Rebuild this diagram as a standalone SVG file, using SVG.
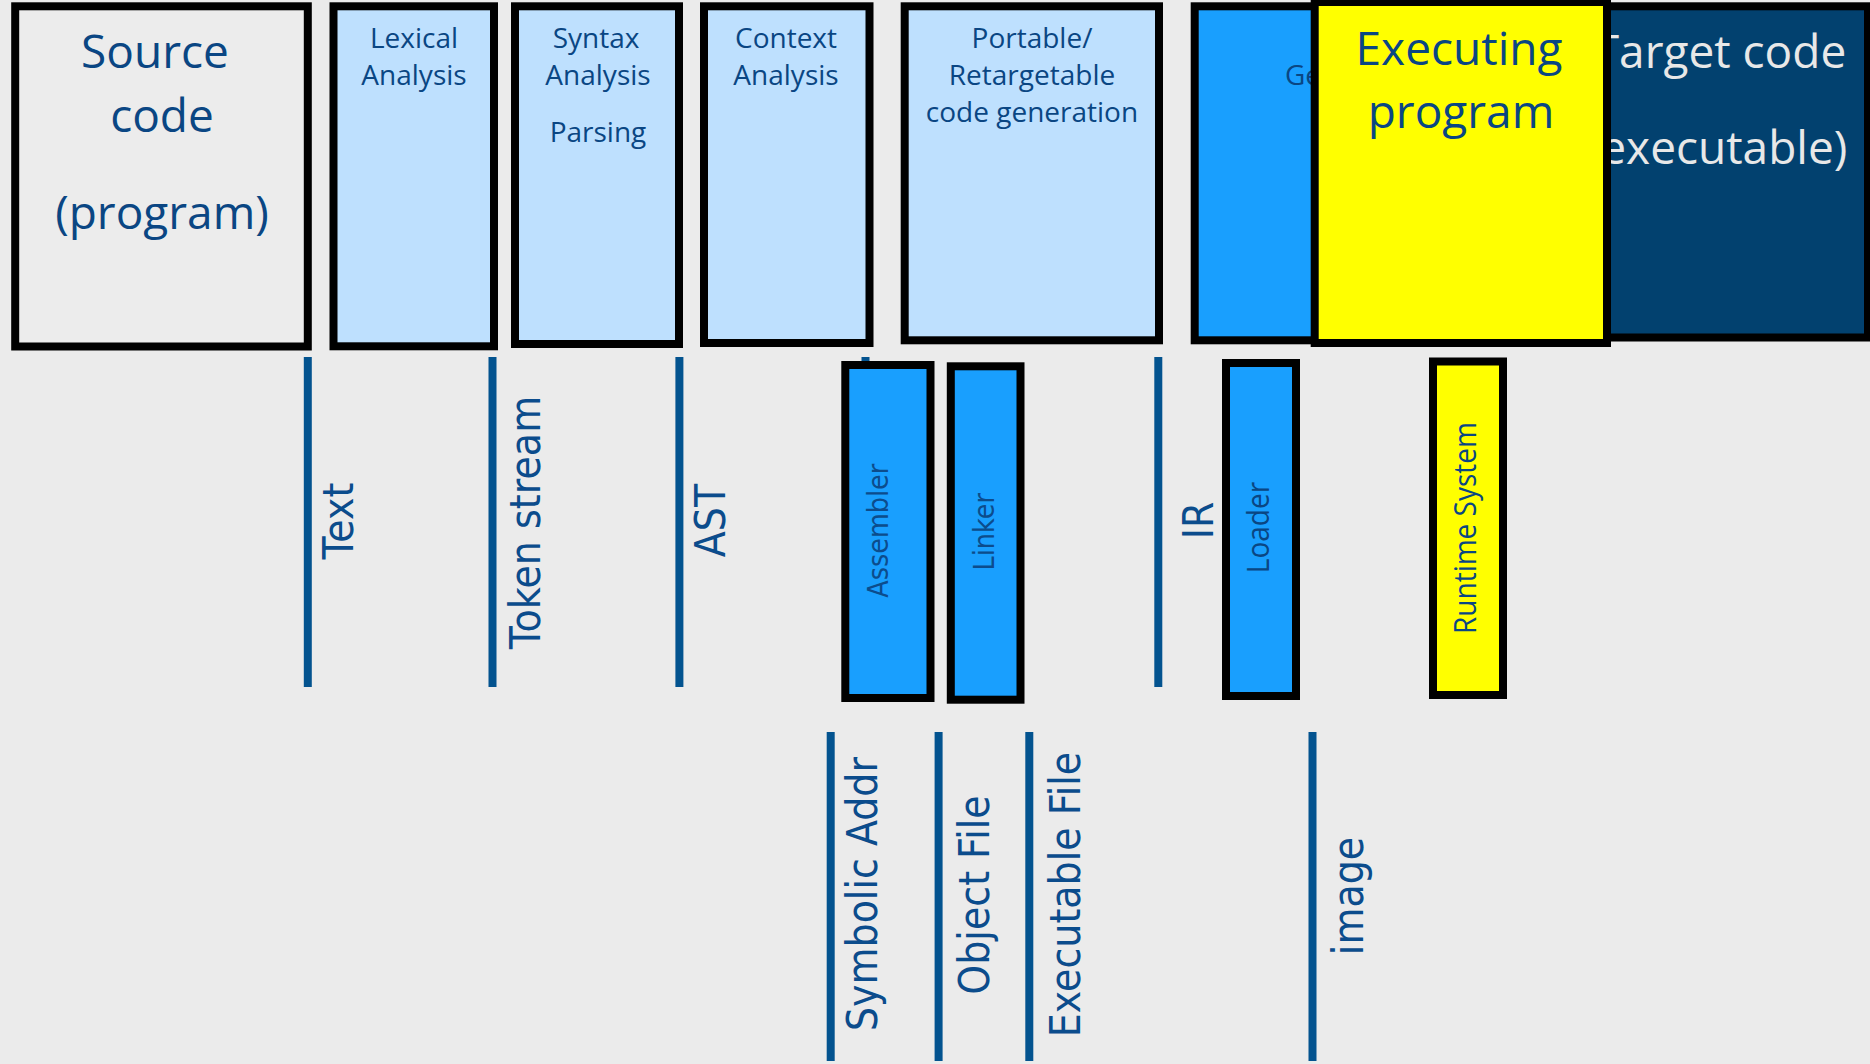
<svg xmlns="http://www.w3.org/2000/svg" width="1870" height="1064" viewBox="0 0 1870 1064">
  <style>
    .box { stroke: #000; stroke-width: 8; }
    .src { fill: #ececec; }
    .phase { fill: #bee0fe; }
    .tool { fill: #199ffe; }
    .exec { fill: #ffff00; }
    .target { fill: #02416f; }
    .lbl { font-family: "Open Sans", "Liberation Sans", sans-serif; font-size: 28px; fill: #0a4683; text-anchor: middle; }
    .big { font-size: 46px; }
    .light { fill: #e8e8e8; }
    .flow { stroke: #03538f; stroke-width: 8; fill: none; }
    .data { font-family: "DejaVu Sans", sans-serif; font-size: 38px; fill: #0b4c8c; text-anchor: middle; }
    .toolname { font-family: "DejaVu Sans", sans-serif; font-size: 25.5px; fill: #0c4c8c; text-anchor: middle; }
    .rtname { font-family: "Open Sans", "Liberation Sans", sans-serif; font-size: 28px; fill: #0a4683; text-anchor: middle; }
  </style>

  <rect x="0" y="0" width="1870" height="1064" fill="#ebebeb"/>

  <!-- compiler phases across the top -->
  <g id="source-code">
    <rect class="box src" x="15.2" y="6.3" width="292.6" height="340.2"/>
    <text class="lbl big" x="155" y="68">Source</text>
    <text class="lbl big" x="162" y="132">code</text>
    <text class="lbl big" x="162" y="229">(program)</text>
  </g>

  <g id="lexical-analysis">
    <rect class="box phase" x="333.5" y="6.3" width="160.5" height="340"/>
    <text class="lbl" x="414" y="48">Lexical</text>
    <text class="lbl" x="414" y="85">Analysis</text>
  </g>

  <g id="syntax-analysis">
    <rect class="box phase" x="515" y="6.3" width="164" height="337.7"/>
    <text class="lbl" x="596" y="48">Syntax</text>
    <text class="lbl" x="598" y="85">Analysis</text>
    <text class="lbl" x="598" y="142">Parsing</text>
  </g>

  <g id="context-analysis">
    <rect class="box phase" x="704" y="6.3" width="165.5" height="336.7"/>
    <text class="lbl" x="786" y="48">Context</text>
    <text class="lbl" x="786" y="85">Analysis</text>
  </g>

  <g id="portable-codegen">
    <rect class="box phase" x="904.7" y="6.3" width="254.3" height="334"/>
    <text class="lbl" x="1032" y="48">Portable/</text>
    <text class="lbl" x="1032" y="85">Retargetable</text>
    <text class="lbl" x="1032" y="122">code generation</text>
  </g>

  <g id="target-codegen">
    <rect class="box tool" x="1194.7" y="6.3" width="310" height="334"/>
    <text class="lbl" x="1285" y="85" style="text-anchor:start">Ge</text>
  </g>

  <g id="target-code">
    <rect class="box target" x="1564" y="6.3" width="304" height="331.2"/>
    <text class="lbl big light" x="1720" y="68">Target code</text>
    <text class="lbl big light" x="1717" y="164">(executable)</text>
  </g>

  <g id="executing-program">
    <rect class="box exec" x="1314.7" y="2" width="292.3" height="341"/>
    <text class="lbl big" x="1459" y="65">Executing</text>
    <text class="lbl big" x="1461" y="128">program</text>
  </g>

  <!-- data passed between the stages -->
  <g id="connectors">
    <line class="flow" x1="307.8" y1="357" x2="307.8" y2="687"/>
    <line class="flow" x1="492.5" y1="357" x2="492.5" y2="687"/>
    <line class="flow" x1="679.4" y1="357" x2="679.4" y2="687"/>
    <line class="flow" x1="865.5" y1="357" x2="865.5" y2="687"/>
    <line class="flow" x1="1158.3" y1="357" x2="1158.3" y2="687"/>
    <line class="flow" x1="830.7" y1="732" x2="830.7" y2="1061"/>
    <line class="flow" x1="938.6" y1="732" x2="938.6" y2="1061"/>
    <line class="flow" x1="1029.3" y1="732" x2="1029.3" y2="1061"/>
    <line class="flow" x1="1312.5" y1="732" x2="1312.5" y2="1061"/>

    <text class="data" transform="translate(353,521) rotate(-90) scale(1,1.13)">Text</text>
    <text class="data" transform="translate(540,522.5) rotate(-90) scale(1,1.13)">Token stream</text>
    <text class="data" transform="translate(725,520.5) rotate(-90) scale(1,1.13)">AST</text>
    <text class="data" transform="translate(1213,520.5) rotate(-90) scale(1,1.13)">IR</text>
    <text class="data" transform="translate(876.5,894) rotate(-90) scale(1,1.13)">Symbolic Addr</text>
    <text class="data" transform="translate(988.5,895) rotate(-90) scale(1,1.13)">Object File</text>
    <text class="data" transform="translate(1079.5,894.5) rotate(-90) scale(1,1.13)">Executable File</text>
    <text class="data" transform="translate(1363,896) rotate(-90) scale(1,1.13)">image</text>
  </g>

  <!-- back-end tools -->
  <g id="assembler">
    <rect class="box tool" x="845.3" y="365" width="85.2" height="333"/>
    <text class="toolname" transform="translate(887.5,530.8) rotate(-90) scale(1,1.13)">Assembler</text>
  </g>

  <g id="linker">
    <rect class="box tool" x="950.8" y="366.3" width="69.7" height="333.4"/>
    <text class="toolname" transform="translate(994,531.7) rotate(-90) scale(1,1.13)">Linker</text>
  </g>

  <g id="loader">
    <rect class="box tool" x="1226" y="363" width="70" height="333"/>
    <text class="rtname" transform="translate(1269,527.5) rotate(-90) scale(1,1.13)">Loader</text>
  </g>

  <g id="runtime-system">
    <rect class="box exec" x="1433" y="361.5" width="70" height="333.5"/>
    <text class="rtname" transform="translate(1476,528) rotate(-90) scale(1,1.13)">Runtime System</text>
  </g>
</svg>
